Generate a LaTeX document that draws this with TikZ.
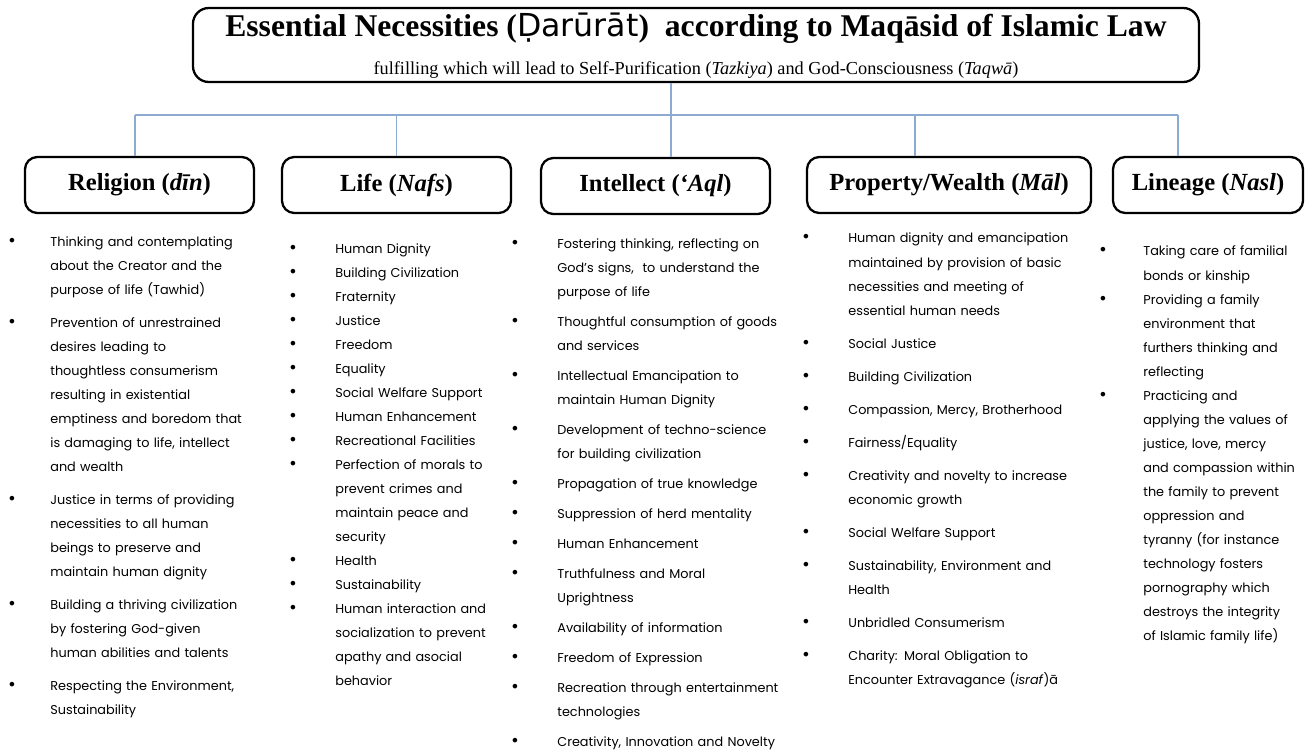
\documentclass[tikz,border=0pt]{standalone}
\usepackage{fontspec}
\setmainfont{Liberation Serif}
\newfontfamily\bodyfont{Poppins}
\newfontfamily\dvfont{DejaVu Sans}
\usetikzlibrary{positioning,calc}
\definecolor{linkblue}{RGB}{140,170,210}

\begin{document}
\begin{tikzpicture}[x=0.2mm, y=-0.2mm,
    box/.style={draw, line width=1.3pt, rounded corners=7pt, minimum height=1.12cm, font=\fontsize{14}{16}\selectfont\bfseries},
    link/.style={draw=linkblue, line width=0.6pt},
    item/.style={anchor=base west, inner sep=0pt, text width=6cm, align=left, font=\bodyfont\fontsize{7.3}{13.66}\selectfont},
    dot/.style={anchor=base, inner sep=0pt, font=\dvfont\fontsize{9}{13.66}\selectfont}]
  \useasboundingbox (0,0) rectangle (1306,753);

  % Title box
  \node[draw, line width=1.3pt, rounded corners=9pt, minimum width=20.12cm, minimum height=1.48cm] (top) at (696,45) {};
  \node[anchor=base, font=\fontsize{18}{20}\selectfont\bfseries] (title) at (696,37) {Essential Necessities ({\mdseries\dvfont Ḍarūrāt})\ \ according to Maqāsid of Islamic Law};
  \node[anchor=base, font=\fontsize{10.4}{12}\selectfont] (subtitle) at (696,75) {fulfilling which will lead to Self-Purification (\textit{Tazkiya}) and God-Consciousness (\textit{Taqwā})};

  % Five necessities
  \node[box, minimum width=4.58cm] (religion) at (139.5,185) {Religion (\textit{dīn})};
  \node[box, minimum width=4.58cm] (life) at (396.5,185) {Life (\textit{Nafs})};
  \node[box, minimum width=4.58cm] (intellect) at (655.5,186) {Intellect (\textit{‘Aql})};
  \node[box, minimum width=5.68cm] (property) at (949,185) {Property/Wealth (\textit{Māl})};
  \node[box, minimum width=3.8cm] (lineage) at (1208,185) {Lineage (\textit{Nasl})};

  % Connectors
  \coordinate (bus) at (0,115);
  \draw[link] ([xshift=0.31cm]intellect.north |- top.south) -- ([xshift=0.31cm]intellect.north);
  \draw[link] ([xshift=-0.09cm]religion.north |- bus) -- ([xshift=-0.6cm]lineage.north |- bus);
  \foreach \n/\s in {religion/-0.09, life/0, property/-0.68, lineage/-0.6}
    \draw[link] ([xshift=\s cm]\n.north |- bus) -- ([xshift=\s cm]\n.north);

  % Religion
  \foreach \y/\txt [count=\i] in {246/{Thinking and contemplating\\about the Creator and the\\purpose of life (Tawhid)},
      327/{Prevention of unrestrained\\desires leading to\\thoughtless consumerism\\resulting in existential\\emptiness and boredom that\\is damaging to life, intellect\\and wealth},
      504/{Justice in terms of providing\\necessities to all human\\beings to preserve and\\maintain human dignity},
      609/{Building a thriving civilization\\by fostering God-given\\human abilities and talents},
      690/{Respecting the Environment,\\Sustainability}}{
    \node[dot] (religion-b\i) at (12,\y) {•};
    \node[item] (religion-\i) at (50,\y) {\txt};
  }

  % Life
  \foreach \y/\txt [count=\i] in {253/Human Dignity, 277/Building Civilization, 301/Fraternity, 325/Justice,
      349/Freedom, 373/Equality, 397/Social Welfare Support, 421/Human Enhancement, 445/Recreational Facilities,
      469/{Perfection of morals to\\prevent crimes and\\maintain peace and\\security},
      565/Health, 589/Sustainability,
      613/{Human interaction and\\socialization to prevent\\apathy and asocial\\behavior}}{
    \node[dot] (life-b\i) at (293,\y) {•};
    \node[item] (life-\i) at (335,\y) {\txt};
  }

  % Intellect
  \foreach \y/\txt [count=\i] in {248/{Fostering thinking, reflecting on\\God’s signs,\ \ to understand the\\purpose of life},
      326/{Thoughtful consumption of goods\\and services},
      380/{Intellectual Emancipation to\\maintain Human Dignity},
      434/{Development of techno-science\\for building civilization},
      488/Propagation of true knowledge, 518/Suppression of herd mentality, 548/Human Enhancement,
      578/{Truthfulness and Moral\\Uprightness},
      632/Availability of information, 662/Freedom of Expression,
      692/{Recreation through entertainment\\technologies},
      746/{Creativity, Innovation and Novelty}}{
    \node[dot] (intellect-b\i) at (515,\y) {•};
    \node[item] (intellect-\i) at (557,\y) {\txt};
  }

  % Property/Wealth
  \foreach \y/\txt [count=\i] in {243/{Human dignity and emancipation\\maintained by provision of basic\\necessities and meeting of\\essential human needs},
      348/Social Justice, 381/Building Civilization, 414/{Compassion, Mercy, Brotherhood}, 447/{Fairness/Equality},
      480/{Creativity and novelty to increase\\economic growth},
      537/Social Welfare Support,
      570/{Sustainability, Environment and\\Health},
      627/Unbridled Consumerism,
      660/{Charity: Moral Obligation to\\Encounter Extravagance (\textit{israf})ā}}{
    \node[dot] (property-b\i) at (806,\y) {•};
    \node[item] (property-\i) at (848,\y) {\txt};
  }

  % Lineage
  \foreach \y/\txt [count=\i] in {256/{Taking care of familial\\bonds or kinship},
      304/{Providing a family\\environment that\\furthers thinking and\\reflecting},
      400/{Practicing and\\applying the values of\\justice, love, mercy\\and compassion within\\the family to prevent\\oppression and\\tyranny (for instance\\technology fosters\\pornography which\\destroys the integrity\\of Islamic family life)}}{
    \node[dot] (lineage-b\i) at (1103,\y) {•};
    \node[item] (lineage-\i) at (1143,\y) {\txt};
  }
\end{tikzpicture}
\end{document}
